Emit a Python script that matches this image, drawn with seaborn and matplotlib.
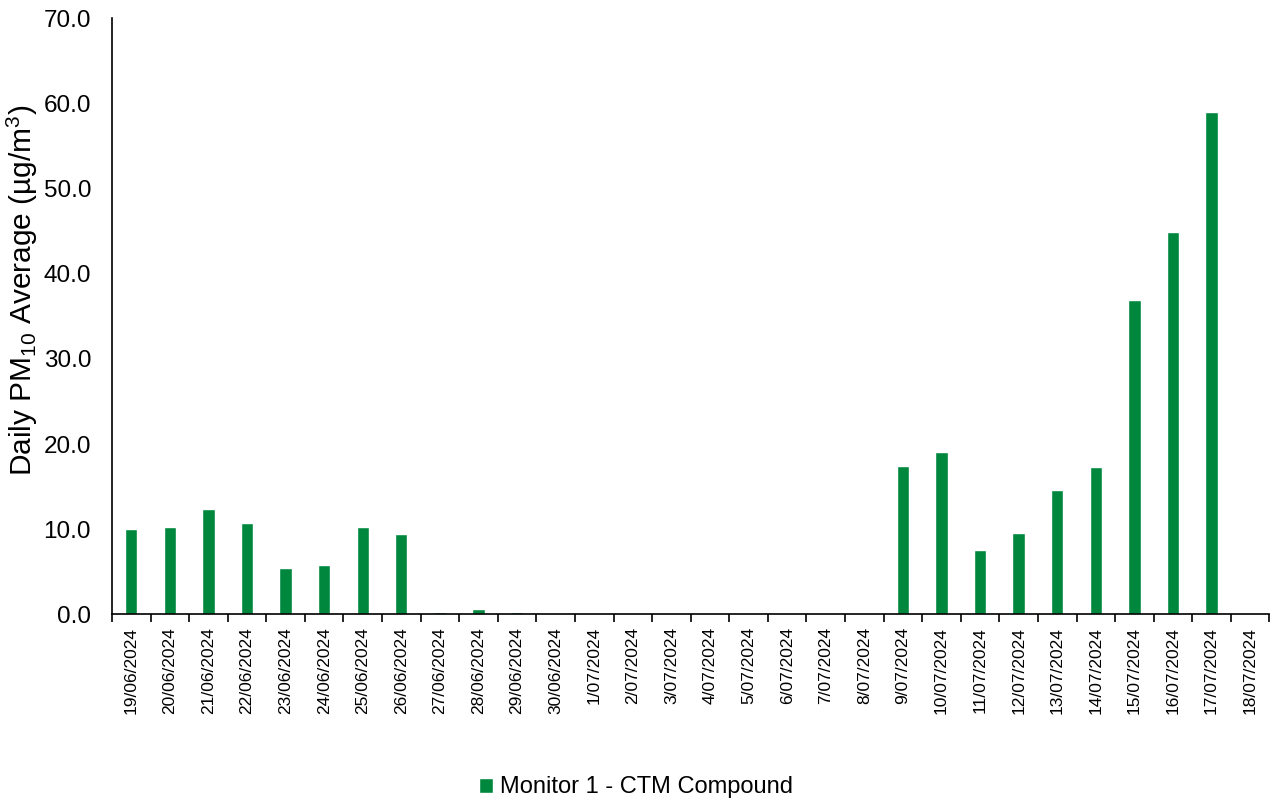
import matplotlib
matplotlib.use("Agg")
import matplotlib.pyplot as plt
import seaborn as sb
from matplotlib.ticker import FixedLocator

dates = [
    "19/06/2024", "20/06/2024", "21/06/2024", "22/06/2024", "23/06/2024",
    "24/06/2024", "25/06/2024", "26/06/2024", "27/06/2024", "28/06/2024",
    "29/06/2024", "30/06/2024", "1/07/2024", "2/07/2024", "3/07/2024",
    "4/07/2024", "5/07/2024", "6/07/2024", "7/07/2024", "8/07/2024",
    "9/07/2024", "10/07/2024", "11/07/2024", "12/07/2024", "13/07/2024",
    "14/07/2024", "15/07/2024", "16/07/2024", "17/07/2024", "18/07/2024",
]
pm10 = [
    10.0, 10.25, 12.4, 10.75, 5.5, 5.8, 10.25, 9.4, 0.3, 0.6,
    0.3, 0.1, 0.0, 0.0, 0.0, 0.1, 0.0, 0.1, 0.1, 0.1,
    17.4, 19.1, 7.6, 9.6, 14.6, 17.3, 36.9, 44.9, 59.0, 0.0,
]
yticks = [0, 10, 20, 30, 40, 50, 60, 70]
series_name = "Monitor 1 - CTM Compound"

sb.set_style("white")
plt.rcParams["font.family"] = ["Liberation Sans", "DejaVu Sans"]
plt.rcParams["mathtext.fontset"] = "custom"
plt.rcParams["mathtext.rm"] = "Liberation Sans"
plt.rcParams["mathtext.it"] = "Liberation Sans"
plt.rcParams["text.color"] = "black"
plt.rcParams["axes.labelcolor"] = "black"
plt.rcParams["xtick.color"] = "black"
plt.rcParams["ytick.color"] = "black"

fig = plt.figure(figsize=(12.72, 8.02), dpi=100)
ax = fig.add_axes([0.088, 0.234, 0.91, 0.743])

sb.barplot(x=dates, y=pm10, color="#00873e", saturation=1, width=0.32,
           label=series_name, ax=ax)
h, l = ax.get_legend_handles_labels()
if ax.get_legend() is not None:
    ax.get_legend().remove()

ax.set_xlim(-0.5, len(dates) - 0.5)
ax.set_yticks(yticks)
ax.set_yticklabels([f"{v:.1f}" for v in yticks], fontsize=17.5)
ax.set_ylim(0, 70)
ax.tick_params(axis="y", length=0, pad=15)
ax.tick_params(axis="x", which="major", length=0, labelrotation=90,
               labelsize=12.5, pad=9)
ax.xaxis.set_minor_locator(FixedLocator([i - 0.5 for i in range(len(dates) + 1)]))
ax.tick_params(axis="x", which="minor", bottom=True, length=6, width=1.2,
               color="black", direction="out")

ax.set_ylabel(None)
ax.set_xlabel(None)
fig.text(0.018, 0.638, "Daily PM$_{10}$ Average (µg/m$^3$)", rotation=90,
         ha="center", va="center", fontsize=21.5)

for s in ["top", "right"]:
    ax.spines[s].set_visible(False)
for s in ["left", "bottom"]:
    ax.spines[s].set_color("black")
    ax.spines[s].set_linewidth(1.2)
ax.grid(False)

fig.legend(h, l, loc="lower center", bbox_to_anchor=(0.5, -0.022), frameon=False,
           fontsize=17, handlelength=0.6, handleheight=0.6, handletextpad=0.3)

fig.savefig("out.png", dpi=100)
